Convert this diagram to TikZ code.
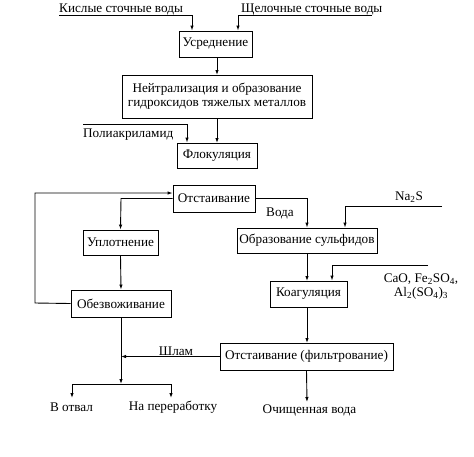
\documentclass[tikz,border=0pt]{standalone}
\usepackage{fontspec}
\setmainfont{Liberation Serif}
\usetikzlibrary{arrows.meta}
\begin{document}
\begin{tikzpicture}[x=1pt,y=-1pt,
  font=\fontsize{13.2}{14}\selectfont,
  box/.style={draw, line width=0.9pt, inner sep=0pt, align=center},
  lbl/.style={inner sep=0pt, anchor=center},
  flow/.style={line width=0.9pt},
  arr/.style={line width=0.9pt, -{Latex[length=5pt,width=3.5pt]}}]
\useasboundingbox (0,0) rectangle (474,456);
% boxes
\node[box, minimum width=73pt, minimum height=26pt] (usr) at (215.5,44) {Усреднение};
\node[box, minimum width=190pt, minimum height=43pt] (neut) at (217,96.5) {Нейтрализация и образование\\гидроксидов тяжелых металлов};
\node[box, minimum width=80pt, minimum height=25pt] (flok) at (217,155.5) {Флокуляция};
\node[box, minimum width=82pt, minimum height=27pt] (otst) at (214,198.5) {Отстаивание};
\node[box, minimum width=75pt, minimum height=25pt] (upl) at (120.5,242.5) {Уплотнение};
\node[box, minimum width=100pt, minimum height=27pt] (obez) at (121,303.5) {Обезвоживание};
\node[box, minimum width=140pt, minimum height=25pt] (sulf) at (307,240.5) {Образование сульфидов};
\node[box, minimum width=77pt, minimum height=26pt] (koag) at (308.5,294) {Коагуляция};
\node[box, minimum width=173pt, minimum height=27pt] (filt) at (306.5,356.5) {Отстаивание (фильтрование)};
% labels
\node[lbl, anchor=base west] (kisl) at (59,12) {Кислые сточные воды};
\node[lbl, anchor=base west] (shch) at (241,12) {Щелочные сточные воды};
\node[lbl, anchor=base west] (poli) at (83,137) {Полиакриламид};
\node[lbl] (voda) at (280,213) {Вода};
\node[lbl] (na2s) at (409,197) {Na\textsubscript{2}S};
\node[lbl, align=center] (cao) at (421,287) {CaO, Fe\textsubscript{2}SO\textsubscript{4},\\Al\textsubscript{2}(SO\textsubscript{4})\textsubscript{3}};
\node[lbl] (shlam) at (176,351) {Шлам};
\node[lbl] (otval) at (71.5,407) {В отвал};
\node[lbl] (perer) at (173,407) {На переработку};
\node[lbl] (chist) at (309.5,410) {Очищенная вода};
% coordinates
\coordinate (k0) at (59,15);
\coordinate (k1) at (192,15);
\coordinate (s0) at (372,15);
\coordinate (s1) at (238,15);
\coordinate (p0) at (83,124);
\coordinate (p1) at (187,124);
\coordinate (n0) at (442,206);
\coordinate (n1) at (345,206);
\coordinate (c0) at (428,265);
\coordinate (c1) at (332,265);
\coordinate (loopL) at (35,303);
\coordinate (loopT) at (35,193);
\coordinate (split) at (121,384);
\coordinate (spL) at (72,384);
\coordinate (spR) at (171,384);
\coordinate (endL) at (72,398);
\coordinate (endR) at (171,398);
\coordinate (endW) at (307,402);
% connectors
\draw[arr] (k0) -- (k1) -- (k1 |- usr.north);
\draw[arr] (s0) -- (s1) -- (s1 |- usr.north);
\draw[arr] (217,57) -- (217,75);
\draw[arr] (217,118) -- (217,143);
\draw[arr] (p0) -- (p1) -- (p1 |- flok.north);
\draw[arr] (otst.east) -- (307,198.5) -- (sulf.north);
\draw[arr] (otst.west) -- (121,198.5) -- (upl.north);
\draw[arr] (upl.south) -- (obez.north);
\draw[arr] (obez.west) -- (loopL) -- (loopT) -- (loopT -| otst.west);
\draw[arr] (n0) -- (n1) -- (n1 |- sulf.north);
\draw[arr] (307,253) -- (307,281);
\draw[arr] (c0) -- (c1) -- (c1 |- koag.north);
\draw[arr] (307,307) -- (307,343);
\draw[arr] (filt.west) -- (121,356.5);
\draw[arr] (obez.south) -- (split);
\draw[flow] (spL) -- (spR);
\draw[arr] (spL) -- (endL);
\draw[arr] (spR) -- (endR);
\draw[arr] (filt.south) -- (endW);
\end{tikzpicture}
\end{document}
